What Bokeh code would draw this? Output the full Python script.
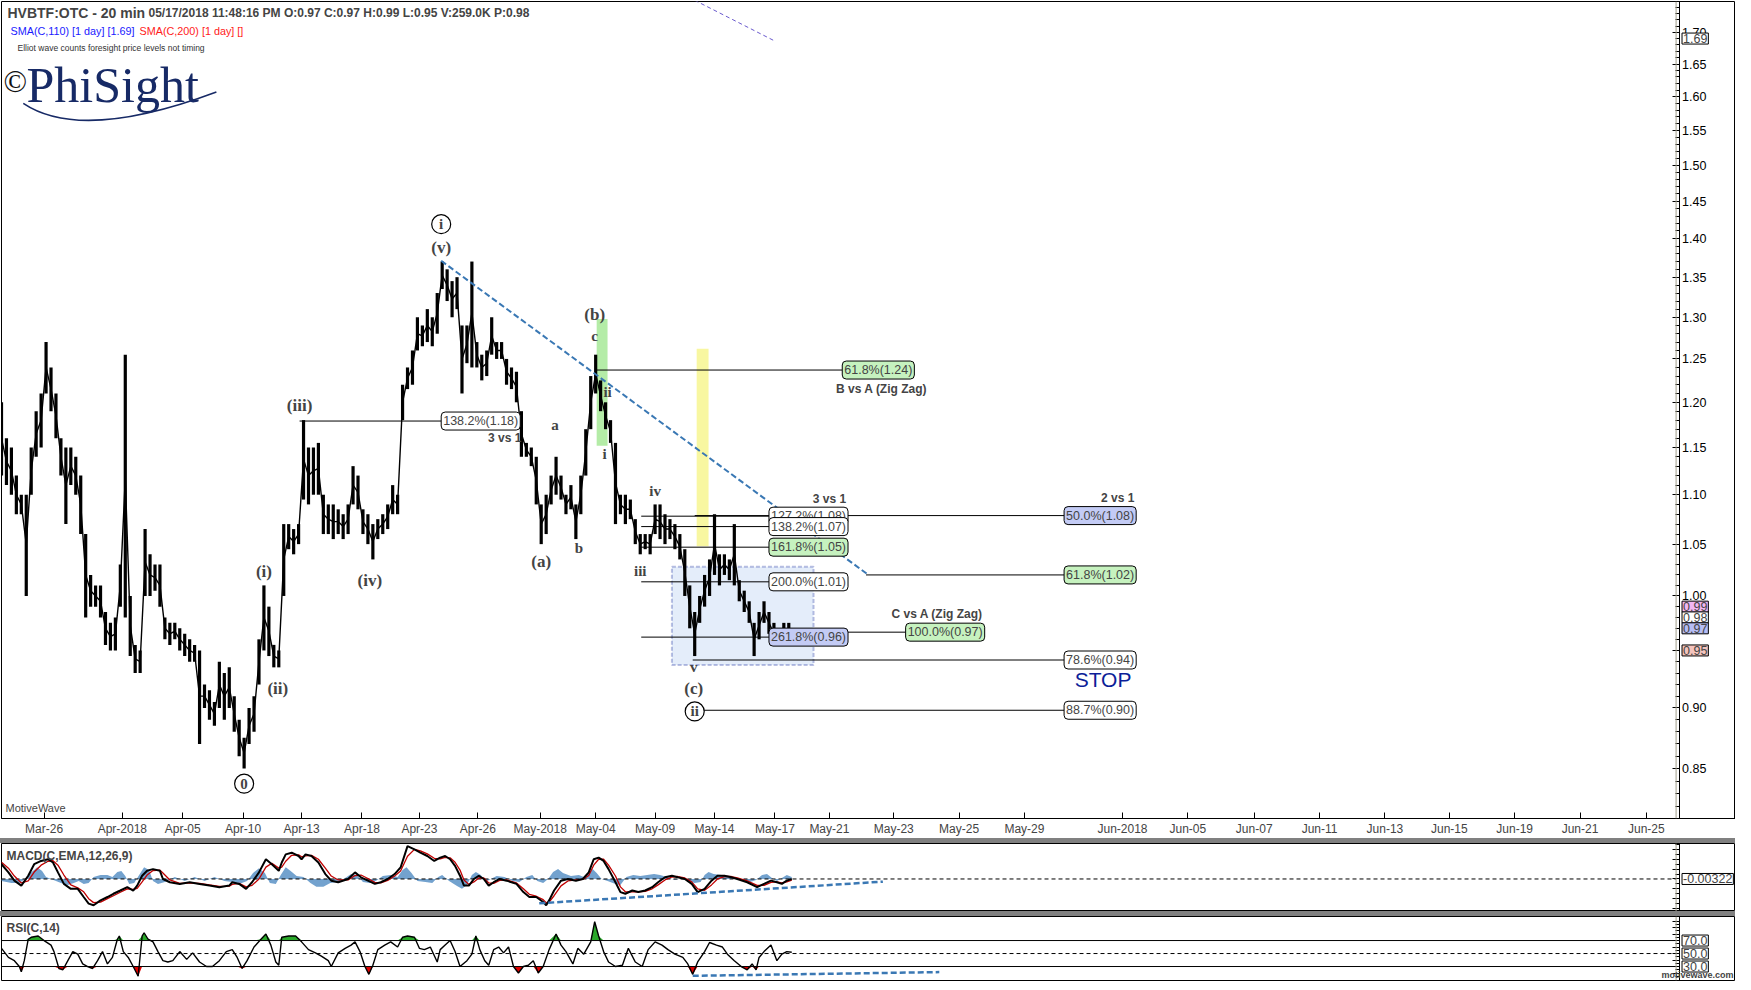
from bokeh.plotting import figure
from bokeh.models import (Range1d, FixedTicker, PrintfTickFormatter, Label, Span, Div,
                          BoxAnnotation, CustomJSTickFormatter)
from bokeh.layouts import column
from bokeh.embed import file_html
from bokeh.resources import INLINE

# ---------------- data ----------------
date_pos = [43, 122, 183, 244, 303, 364, 422, 481, 544, 600, 660, 720, 781, 836, 901,
            967, 1033, 1132, 1198, 1265, 1331, 1397, 1462, 1528, 1594, 1661]
date_lab = ["Mar-26", "Apr-2018", "Apr-05", "Apr-10", "Apr-13", "Apr-18", "Apr-23", "Apr-26",
            "May-2018", "May-04", "May-09", "May-14", "May-17", "May-21", "May-23", "May-25",
            "May-29", "Jun-2018", "Jun-05", "Jun-07", "Jun-11", "Jun-13", "Jun-15", "Jun-19",
            "Jun-21", "Jun-25"]
price_ticks = [0.85, 0.90, 0.95, 1.00, 1.05, 1.10, 1.15, 1.20, 1.25, 1.30, 1.35, 1.40,
               1.45, 1.50, 1.55, 1.60, 1.65, 1.70]

bar_step = 5
price_lo = [1.12, 1.11, 1.10, 1.08, 1.08, 1.00, 1.10, 1.14, 1.15, 1.21,
            1.19, 1.16, 1.12, 1.07, 1.11, 1.10, 1.06, 0.98, 0.99, 0.99,
            0.98, 0.955, 0.95, 0.95, 0.99, 0.98, 0.945, 0.93, 0.93, 1.00,
            1.00, 1.005, 0.99, 0.96, 0.955, 0.96, 0.95, 0.945, 0.94, 0.94,
            0.87, 0.90, 0.89, 0.885, 0.90, 0.89, 0.90, 0.88, 0.86, 0.85,
            0.87, 0.88, 0.92, 0.95, 0.945, 0.935, 0.935, 1.00, 1.045, 1.04,
            1.05, 1.095, 1.09, 1.10, 1.10, 1.06, 1.06, 1.055, 1.06, 1.055,
            1.06, 1.09, 1.085, 1.06, 1.05, 1.035, 1.055, 1.06, 1.065, 1.08,
            1.08, 1.18, 1.215, 1.22, 1.26, 1.265, 1.27, 1.265, 1.28, 1.335,
            1.32, 1.30, 1.31, 1.21, 1.245, 1.24, 1.24, 1.225, 1.23, 1.255,
            1.25, 1.25, 1.22, 1.215, 1.20, 1.14, 1.14, 1.13, 1.09, 1.05,
            1.06, 1.09, 1.10, 1.095, 1.08, 1.085, 1.055, 1.08, 1.12, 1.17,
            1.21, 1.19, 1.17, 1.155, 1.07, 1.08, 1.07, 1.075, 1.05, 1.04,
            1.045, 1.04, 1.06, 1.055, 1.05, 1.055, 1.045, 1.035, 1.00, 0.97,
            0.945, 0.975, 0.99, 1.00, 1.02, 1.01, 1.02, 1.015, 1.01, 0.995,
            0.985, 0.975, 0.945, 0.96, 0.975, 0.965, 0.955, 0.955, 0.955, 0.96]
price_hi = [1.20, 1.16, 1.15, 1.12, 1.10, 1.10, 1.15, 1.19, 1.21, 1.27,
            1.24, 1.21, 1.16, 1.15, 1.15, 1.14, 1.12, 1.06, 1.02, 1.01,
            1.01, 0.985, 0.975, 0.98, 1.03, 1.255, 1.00, 0.955, 0.95, 1.065,
            1.04, 1.03, 1.03, 0.98, 0.975, 0.975, 0.97, 0.965, 0.96, 0.955,
            0.95, 0.92, 0.915, 0.905, 0.94, 0.93, 0.935, 0.91, 0.89, 0.875,
            0.90, 0.91, 0.96, 1.01, 0.99, 0.955, 0.95, 1.07, 1.07, 1.065,
            1.07, 1.18, 1.15, 1.15, 1.155, 1.10, 1.09, 1.09, 1.085, 1.08,
            1.09, 1.13, 1.12, 1.085, 1.08, 1.07, 1.075, 1.08, 1.09, 1.11,
            1.10, 1.22, 1.24, 1.26, 1.30, 1.29, 1.31, 1.30, 1.33, 1.37,
            1.36, 1.345, 1.35, 1.29, 1.29, 1.37, 1.27, 1.255, 1.26, 1.30,
            1.27, 1.27, 1.25, 1.24, 1.235, 1.19, 1.155, 1.15, 1.14, 1.09,
            1.10, 1.12, 1.14, 1.12, 1.10, 1.11, 1.09, 1.12, 1.17, 1.23,
            1.255, 1.225, 1.20, 1.18, 1.155, 1.10, 1.10, 1.095, 1.075, 1.06,
            1.06, 1.06, 1.09, 1.09, 1.08, 1.075, 1.07, 1.06, 1.045, 1.01,
            0.985, 1.00, 1.02, 1.035, 1.08, 1.04, 1.04, 1.035, 1.07, 1.015,
            1.005, 0.995, 0.975, 0.985, 0.995, 0.985, 0.975, 0.97, 0.975, 0.975]

macd_x = [0, 7, 13, 20, 27, 33, 40, 47, 52, 57, 63, 70, 77, 83, 88, 93, 100, 107, 113, 120,
          127, 133, 137, 142, 147, 153, 160, 163, 170, 180, 190, 200, 210, 220, 230, 233, 240,
          247, 253, 260, 267, 273, 280, 283, 287, 293, 300, 303, 307, 313, 320, 327, 333, 340,
          350, 357, 363, 370, 377, 383, 390, 397, 403, 410, 417, 423, 430, 437, 443, 448, 453,
          458, 463, 467, 472, 477, 482, 487, 492, 497, 503, 510, 520, 527, 533, 540, 547, 550,
          553, 558, 565, 572, 580, 587, 593, 598, 603, 608, 613, 620, 625, 630, 637, 643, 650,
          657, 663, 670, 677, 683, 690, 697, 703, 710, 717, 723, 730, 737, 743, 753, 763, 770,
          777, 783, 788, 793, 798]
macd_val = [0.0150, 0.0067, -0.0017, -0.0067, 0.0033, 0.0150, 0.0183, 0.0200, 0.0167, 0.0067,
            -0.0050, -0.0100, -0.0100, -0.0183, -0.0250, -0.0267, -0.0217, -0.0183, -0.0150, -0.0117,
            -0.0083, -0.0117, -0.0067, 0.0033, 0.0083, 0.0100, 0.0083, 0.0000, -0.0033, -0.0050,
            -0.0033, -0.0050, -0.0067, -0.0083, -0.0067, -0.0033, -0.0050, -0.0100, -0.0033, 0.0067,
            0.0200, 0.0150, 0.0083, 0.0167, 0.0250, 0.0267, 0.0233, 0.0200, 0.0250, 0.0233,
            0.0167, 0.0050, -0.0017, -0.0033, 0.0000, 0.0067, 0.0017, -0.0017, -0.0050, -0.0033,
            0.0000, 0.0050, 0.0117, 0.0333, 0.0300, 0.0267, 0.0233, 0.0183, 0.0217, 0.0233,
            0.0200, 0.0133, 0.0033, -0.0067, -0.0067, 0.0000, 0.0033, 0.0000, -0.0067, -0.0033,
            0.0000, -0.0017, -0.0050, -0.0133, -0.0183, -0.0183, -0.0233, -0.0267, -0.0217, -0.0117,
            -0.0017, 0.0000, -0.0017, 0.0000, 0.0067, 0.0200, 0.0217, 0.0183, 0.0100, -0.0033,
            -0.0133, -0.0150, -0.0117, -0.0133, -0.0117, -0.0083, -0.0033, 0.0017, 0.0033, 0.0017,
            0.0000, -0.0050, -0.0133, -0.0100, -0.0017, 0.0033, 0.0033, 0.0017, 0.0000, -0.0033,
            -0.0083, -0.0050, -0.0017, -0.0033, -0.0050, -0.0017, 0.0000]
signal_val = [0.0170, 0.0110, 0.0030, -0.0040, -0.0020, 0.0070, 0.0140, 0.0180, 0.0185, 0.0140,
              0.0040, -0.0060, -0.0090, -0.0130, -0.0200, -0.0240, -0.0235, -0.0200, -0.0170, -0.0135,
              -0.0100, -0.0105, -0.0095, -0.0030, 0.0040, 0.0085, 0.0090, 0.0060, -0.0010, -0.0045,
              -0.0040, -0.0045, -0.0060, -0.0075, -0.0072, -0.0055, -0.0045, -0.0080, -0.0065, 0.0000,
              0.0120, 0.0160, 0.0110, 0.0120, 0.0180, 0.0240, 0.0245, 0.0225, 0.0235, 0.0240,
              0.0200, 0.0110, 0.0030, -0.0010, -0.0010, 0.0035, 0.0040, 0.0005, -0.0035, -0.0040,
              -0.0015, 0.0030, 0.0080, 0.0230, 0.0300, 0.0285, 0.0255, 0.0210, 0.0205, 0.0220,
              0.0215, 0.0170, 0.0090, -0.0010, -0.0055, -0.0030, 0.0010, 0.0010, -0.0040, -0.0045,
              -0.0015, -0.0010, -0.0040, -0.0100, -0.0155, -0.0175, -0.0210, -0.0240, -0.0235, -0.0170,
              -0.0070, -0.0020, -0.0010, -0.0005, 0.0035, 0.0140, 0.0200, 0.0200, 0.0140, 0.0030,
              -0.0080, -0.0130, -0.0130, -0.0130, -0.0125, -0.0100, -0.0060, -0.0010, 0.0020, 0.0025,
              0.0010, -0.0030, -0.0100, -0.0115, -0.0060, 0.0000, 0.0025, 0.0025, 0.0010, -0.0020,
              -0.0065, -0.0065, -0.0035, -0.0030, -0.0040, -0.0030, -0.0012]
hist_x = [0, 5, 10, 18, 24, 28, 33, 36, 41, 45, 50, 55, 60, 67, 73, 78, 83, 88, 93, 100, 107,
          112, 117, 121, 125, 129, 134, 139, 144, 149, 153, 158, 165, 175, 185, 195, 205, 215,
          225, 233, 240, 248, 254, 260, 266, 271, 277, 282, 287, 292, 298, 305, 312, 318, 325,
          332, 340, 347, 353, 359, 365, 372, 378, 385, 393, 400, 405, 409, 414, 420, 428, 435,
          441, 445, 452, 460, 465, 470, 475, 479, 484, 489, 494, 500, 508, 516, 523, 530, 536,
          541, 547, 552, 557, 562, 567, 575, 583, 588, 593, 597, 601, 606, 612, 620, 625, 631,
          638, 645, 652, 659, 665, 672, 680, 688, 694, 700, 706, 710, 714, 719, 727, 735, 742,
          749, 756, 762, 768, 773, 778, 783, 788, 793, 798]
hist_val = [-0.002, -0.003, -0.004, -0.004, 0.0, 0.005, 0.009, 0.012, 0.008, 0.002, 0.0, -0.002,
            -0.004, -0.006, -0.004, -0.002, -0.005, -0.004, 0.002, 0.004, 0.004, 0.002, 0.007,
            0.008, 0.003, -0.005, -0.004, 0.004, 0.012, 0.009, -0.002, -0.005, -0.003, 0.002,
            -0.002, 0.002, -0.002, 0.002, -0.002, -0.003, -0.005, -0.002, 0.006, 0.011, 0.006,
            -0.004, -0.005, 0.004, 0.012, 0.008, 0.003, 0.002, -0.004, -0.008, -0.008, -0.004,
            -0.003, 0.001, 0.005, 0.004, -0.003, -0.004, -0.002, 0.003, 0.004, 0.002, 0.009,
            0.012, 0.006, -0.002, -0.003, -0.004, 0.002, 0.004, -0.002, -0.007, -0.010, -0.006,
            0.004, 0.007, 0.004, -0.003, 0.0, 0.003, 0.002, -0.002, -0.003, 0.002, 0.004,
            -0.002, -0.004, 0.0, 0.007, 0.010, 0.006, 0.003, 0.004, 0.002, 0.006, 0.010, 0.006,
            0.0, -0.002, -0.005, -0.006, 0.002, 0.004, 0.003, 0.004, 0.005, 0.004, 0.002,
            -0.001, 0.001, -0.002, -0.004, -0.003, 0.004, 0.007, 0.005, 0.004, 0.003, 0.001,
            -0.002, -0.003, -0.001, 0.004, 0.005, 0.001, -0.002, 0.001, 0.004, 0.002]

rsi_x = [0, 7, 13, 18, 20, 23, 27, 30, 37, 43, 50, 53, 58, 62, 67, 72, 77, 82, 87, 92, 97, 102,
         107, 112, 117, 119, 123, 128, 133, 138, 142, 144, 148, 153, 158, 163, 168, 173, 180,
         187, 193, 200, 207, 213, 220, 227, 233, 238, 243, 248, 255, 262, 267, 272, 277, 280,
         283, 290, 297, 303, 310, 317, 323, 330, 333, 340, 347, 353, 357, 362, 367, 371, 375,
         380, 387, 393, 400, 405, 410, 417, 422, 427, 433, 440, 443, 448, 453, 458, 463, 470,
         475, 479, 483, 488, 492, 497, 502, 507, 512, 517, 522, 527, 532, 537, 542, 547, 553,
         560, 565, 570, 577, 582, 588, 595, 599, 603, 608, 613, 620, 627, 633, 640, 647, 653,
         660, 667, 673, 680, 688, 693, 698, 703, 710, 715, 722, 728, 733, 740, 747, 753, 758,
         762, 765, 770, 777, 783, 788, 793, 798]
rsi_val = [58, 44, 39, 30, 22, 39, 72, 75, 77, 70, 63, 53, 27, 25, 39, 53, 49, 34, 30, 27, 39, 53,
           34, 44, 72, 77, 53, 44, 30, 15, 77, 82, 72, 68, 53, 39, 37, 39, 53,
           41, 51, 37, 30, 30, 39, 53, 56, 44, 27, 39, 60, 72, 80, 63, 37, 32,
           75, 77, 77, 68, 56, 51, 46, 39, 30, 51, 58, 63, 68, 53, 30, 18, 32,
           56, 63, 68, 60, 75, 77, 75, 58, 56, 60, 37, 56, 63, 70, 53, 30, 39,
           49, 77, 56, 39, 32, 56, 60, 51, 60, 30, 20, 30, 32, 39, 20, 30, 56,
           80, 63, 53, 34, 58, 49, 68, 99, 77, 53, 37, 30, 32, 58, 37, 30, 56,
           68, 63, 56, 49, 44, 34, 18, 37, 53, 67, 63, 60, 49, 39, 30, 25, 34,
           25, 44, 53, 63, 39, 49, 53, 52]
rsi_levels = [70, 50, 30]

# annotations (bar index, price)
fib_txt = ["138.2%(1.18)", "61.8%(1.24)", "127.2%(1.08)", "138.2%(1.07)", "161.8%(1.05)",
           "200.0%(1.01)", "261.8%(0.96)", "100.0%(0.97)", "50.0%(1.08)", "61.8%(1.02)",
           "78.6%(0.94)", "88.7%(0.90)"]
fib_price = [1.179, 1.237, 1.078, 1.0675, 1.047, 1.0134, 0.962, 0.9665, 1.0786, 1.020, 0.9415, 0.898]
fib_start = [301, 600, 646, 646, 646, 646, 646, 852, 700, 873, 698, 707]
fib_box = [444, 849, 775, 775, 775, 775, 775, 913, 1073, 1073, 1073, 1073]
fib_fill = ["white", "#c6f2bf", "white", "white", "#c6f2bf", "white", "#c3cbf5", "#c6f2bf",
            "#c3cbf5", "#c6f2bf", "white", "white"]

note_txt = ["3 vs 1", "B vs A (Zig Zag)", "3 vs 1", "2 vs 1", "C vs A (Zig Zag)"]
note_x = [525, 935, 853, 1144, 991]
note_y = [1.160, 1.215, 1.096, 1.097, 0.983]

wave_txt = ["(v)", "(b)", "c", "ii", "a", "i", "(a)", "b", "iv", "iii", "v", "(c)",
            "(i)", "(ii)", "(iii)", "(iv)"]
wave_x = [444, 599, 599, 612, 559, 609, 545, 583, 660, 645, 699, 699, 265, 279, 301, 372]
wave_y = [1.388, 1.303, 1.277, 1.212, 1.175, 1.143, 1.033, 1.046, 1.104, 1.024, 0.935, 0.917,
          1.0234, 0.917, 1.196, 1.0148]
circ_txt = ["i", "0", "ii"]
circ_x = [444, 245, 700]
circ_y = [1.419, 0.838, 0.897]

trend_x = [444, 874]
trend_y = [1.371, 1.021]
upper_x = [700, 781]
upper_y = [1.752, 1.686]
macd_tr_x = [543, 890]
macd_tr_y = [-0.0247, -0.0027]
rsi_tr_x = [698, 947]
rsi_tr_y = [15.7, 21.4]

# ---------------- layout ----------------
FW = 1734          # frame spans the whole page width; y axes are placed at AX_X
X_END = 1751
PLOT_END = 1691
AX_X = 1694
TAG_X = 1697
MAIN_H = 817
SANS = "Liberation Sans"
SERIF = "Liberation Serif"
BLUE_D = "#3a78b4"
FRAME_C = "#a09e8a"

xr = Range1d(0, X_END)
common = dict(frame_width=FW, x_range=xr, output_backend="svg", toolbar_location=None,
              min_border_left=1, min_border_right=0)


def style_right_axis(ax):
    ax.fixed_location = AX_X
    ax.major_tick_in = 7
    ax.major_tick_out = 0
    ax.minor_tick_in = 4
    ax.minor_tick_out = 0
    ax.axis_line_color = "black"
    ax.major_label_text_font = SANS
    ax.major_label_text_font_size = "12.5px"
    ax.major_label_text_color = "black"
    ax.major_label_standoff = 3


def tag(fig, y, text, fill):
    fig.add_layout(Label(x=TAG_X, y=y, text=text, text_font=SANS, text_font_size="12.5px",
                         text_baseline="middle", text_align="left",
                         background_fill_color=fill, border_line_color="black",
                         border_line_width=1, padding=1))


def frame_edge(fig):
    fig.add_layout(Span(location=PLOT_END, dimension="height", line_color=FRAME_C,
                        line_width=1))


p = figure(frame_height=MAIN_H, y_range=Range1d(0.811, 1.75), y_axis_type="log",
           y_axis_location="right", min_border_top=1, min_border_bottom=0, **common)
p.xgrid.visible = False
p.ygrid.visible = False
p.outline_line_color = "black"
xa = p.xaxis[0]
xa.ticker = FixedTicker(ticks=date_pos, minor_ticks=[])
xa.major_label_overrides = {pos: lab for pos, lab in zip(date_pos, date_lab)}
xa.major_tick_in = 6
xa.major_tick_out = 0
xa.axis_line_color = "black"
xa.major_label_text_font = SANS
xa.major_label_text_font_size = "12px"
xa.major_label_standoff = 3
ya = p.yaxis[0]
ya.ticker = FixedTicker(ticks=price_ticks,
                        minor_ticks=[round(0.82 + 0.01 * i, 2) for i in range(93)])
ya.formatter = PrintfTickFormatter(format="%.2f")
style_right_axis(ya)
frame_edge(p)

# shaded zones
p.add_layout(BoxAnnotation(left=677, right=820, bottom=0.937, top=1.028, fill_color="#e4edfa",
                           fill_alpha=1, line_color="#1c2fa0", line_dash="4 2", line_width=2,
                           level="underlay"))
p.add_layout(BoxAnnotation(left=601, right=612, bottom=1.152, top=1.298, fill_color="#9be58a",
                           fill_alpha=0.75, line_color=None, level="underlay"))
p.add_layout(BoxAnnotation(left=702, right=714, bottom=1.048, top=1.262, fill_color="#f6f58a",
                           fill_alpha=0.8, line_color=None, level="underlay"))

# price bars
bar_x = [i * bar_step for i in range(len(price_lo))]
bar_mid = [(a + b) / 2 for a, b in zip(price_lo, price_hi)]
p.segment(x0=bar_x, x1=bar_x, y0=price_lo, y1=price_hi, line_color="black", line_width=3.2)
p.line(bar_x, bar_mid, line_color="black", line_width=1.4)

# fib lines
p.segment(x0=fib_start, x1=fib_box, y0=fib_price, y1=fib_price, line_color="black", line_width=1)
p.line(trend_x, trend_y, line_color=BLUE_D, line_width=2, line_dash="6 3")
p.line(upper_x, upper_y, line_color="#6a5acd", line_width=1, line_dash="4 3")

for t, x, y, f in zip(fib_txt, fib_box, fib_price, fib_fill):
    p.add_layout(Label(x=x, y=y, text=t, text_font=SANS, text_font_size="12.5px",
                       text_baseline="middle", text_align="left", background_fill_color=f,
                       border_line_color="black", border_line_width=1, padding=2,
                       border_radius=4))
for t, x, y in zip(note_txt, note_x, note_y):
    p.add_layout(Label(x=x, y=y, text=t, text_font=SANS, text_font_size="12px",
                       text_font_style="bold", text_baseline="middle", text_align="right"))
p.add_layout(Label(x=1141, y=0.924, text="STOP", text_font=SANS, text_font_size="21px",
                   text_color="#0c1e98", text_baseline="middle", text_align="right"))

for t, x, y in zip(wave_txt, wave_x, wave_y):
    size = "17px" if t.startswith("(") else "15px"
    p.add_layout(Label(x=x, y=y, text=t, text_font=SERIF, text_font_size=size,
                       text_font_style="bold", text_baseline="middle", text_align="center"))
p.scatter(circ_x, circ_y, size=19, marker="circle", fill_color="white", line_color="black",
          line_width=1.2)
for t, x, y in zip(circ_txt, circ_x, circ_y):
    p.add_layout(Label(x=x, y=y, text=t, text_font=SERIF, text_font_size="15px",
                       text_font_style="bold", text_baseline="middle", text_align="center"))

# header and logo (screen units from the frame)
H = MAIN_H
p.add_layout(Label(x=6, y=H - 3, x_units="screen", y_units="screen", text="HVBTF:OTC - 20 min",
                   text_font=SANS, text_font_size="14px", text_font_style="bold",
                   text_baseline="top"))
p.add_layout(Label(x=147, y=H - 4, x_units="screen", y_units="screen",
                   text="05/17/2018 11:48:16 PM  O:0.97  C:0.97  H:0.99  L:0.95  V:259.0K  P:0.98",
                   text_font=SANS, text_font_size="12px", text_font_style="bold",
                   text_baseline="top"))
p.add_layout(Label(x=9, y=H - 23, x_units="screen", y_units="screen",
                   text="SMA(C,110) [1 day] [1.69]", text_font=SANS, text_font_size="10.8px",
                   text_color="#1a1aff", text_baseline="top"))
p.add_layout(Label(x=138, y=H - 23, x_units="screen", y_units="screen",
                   text="SMA(C,200) [1 day] []", text_font=SANS, text_font_size="10.8px",
                   text_color="#ff1a1a", text_baseline="top"))
p.add_layout(Label(x=16, y=H - 41, x_units="screen", y_units="screen",
                   text="Elliot wave counts foresight price levels not timing",
                   text_font=SANS, text_font_size="8.5px", text_color="#333333",
                   text_baseline="top"))
p.add_layout(Label(x=2, y=H - 80, x_units="screen", y_units="screen", text="©",
                   text_font=SERIF, text_font_size="31px", text_color="#111111",
                   text_baseline="alphabetic"))
p.add_layout(Label(x=25, y=H - 83, x_units="screen", y_units="screen", text="PhiSight",
                   text_font=SERIF, text_font_size="50px", text_color="#172a66",
                   text_baseline="alphabetic"))
p.bezier(x0=[22], y0=[1.590], x1=[217], y1=[1.607], cx0=[70], cy0=[1.543], cx1=[150],
         cy1=[1.570], line_color="#172a66", line_width=1.6)
p.add_layout(Label(x=4, y=5, x_units="screen", y_units="screen", text="MotiveWave",
                   text_font=SANS, text_font_size="11px", text_color="#444444",
                   text_baseline="bottom"))

tag(p, 1.69, "1.69", "white")
tag(p, 0.99, "0.99", "#f2b6f2")
tag(p, 0.98, "0.98", "white")
tag(p, 0.97, "0.97", "#b6bdf5")
tag(p, 0.95, "0.95", "#f5c4bd")

# ---------------- MACD ----------------
m = figure(frame_height=68, y_range=Range1d(-0.033, 0.036), x_axis_location=None,
           y_axis_location="right", min_border_top=0, min_border_bottom=0, **common)
m.xgrid.visible = False
m.ygrid.visible = False
m.outline_line_color = "black"
ma = m.yaxis[0]
ma.ticker = FixedTicker(ticks=[-0.03, -0.02, -0.01, 0.0, 0.01, 0.02, 0.03],
                        minor_ticks=[round(-0.03 + 0.005 * i, 3) for i in range(14)])
ma.formatter = CustomJSTickFormatter(code="return ''")
style_right_axis(ma)
frame_edge(m)
m.varea(x=hist_x, y1=0, y2=hist_val, fill_color="#6b9dcb", fill_alpha=0.95)
m.segment(x0=[0], x1=[PLOT_END], y0=[0], y1=[0], line_color="black", line_width=1,
          line_dash="4 3")
m.line(macd_x, signal_val, line_color="#c00000", line_width=1.3)
m.line(macd_x, macd_val, line_color="black", line_width=2)
m.line(macd_tr_x, macd_tr_y, line_color=BLUE_D, line_width=2.5, line_dash="6 3")
m.add_layout(Label(x=5, y=63, x_units="screen", y_units="screen", text="MACD(C,EMA,12,26,9)",
                   text_font=SANS, text_font_size="12px", text_font_style="bold",
                   text_baseline="top"))
tag(m, 0.0, "-0.00322", "white")

# ---------------- RSI ----------------
r = figure(frame_height=64, y_range=Range1d(8.5, 107), x_axis_location=None,
           y_axis_location="right", min_border_top=0, min_border_bottom=1, **common)
r.xgrid.visible = False
r.ygrid.visible = False
r.outline_line_color = "black"
ra = r.yaxis[0]
ra.ticker = FixedTicker(ticks=[20, 30, 40, 50, 60, 70, 80, 90, 100],
                        minor_ticks=[15, 25, 35, 45, 55, 65, 75, 85, 95])
ra.formatter = CustomJSTickFormatter(code="return ''")
style_right_axis(ra)
frame_edge(r)
rsi_hi = [max(v, 70) for v in rsi_val]
rsi_lo = [min(v, 30) for v in rsi_val]
r.varea(x=rsi_x, y1=70, y2=rsi_hi, fill_color="#2aa82a")
r.varea(x=rsi_x, y1=rsi_lo, y2=30, fill_color="#e00000")
r.segment(x0=[0, 0], x1=[PLOT_END, PLOT_END], y0=[70, 30], y1=[70, 30], line_color="black",
          line_width=1)
r.segment(x0=[0], x1=[PLOT_END], y0=[50], y1=[50], line_color="black", line_width=1,
          line_dash="4 3")
r.line(rsi_x, rsi_val, line_color="black", line_width=1.4)
r.line(rsi_tr_x, rsi_tr_y, line_color=BLUE_D, line_width=2.5, line_dash="6 3")
r.add_layout(Label(x=5, y=60, x_units="screen", y_units="screen", text="RSI(C,14)",
                   text_font=SANS, text_font_size="12px", text_font_style="bold",
                   text_baseline="top"))
for lvl in rsi_levels:
    tag(r, lvl, "%.1f" % lvl, "white")
r.add_layout(Label(x=X_END - 2, y=1, y_units="screen", text="motivewave.com", text_font=SANS,
                   text_font_size="9px", text_font_style="bold", text_color="#444444",
                   text_align="right", text_baseline="bottom"))

sep1 = Div(width=FW + 1, height=5, styles={"background-color": "#808080"}, margin=0)
sep2 = Div(width=FW + 1, height=5, styles={"background-color": "#808080"}, margin=0)

layout = column(p, sep1, m, sep2, r, spacing=0)
open("out.html", "w").write(file_html(layout, INLINE))
